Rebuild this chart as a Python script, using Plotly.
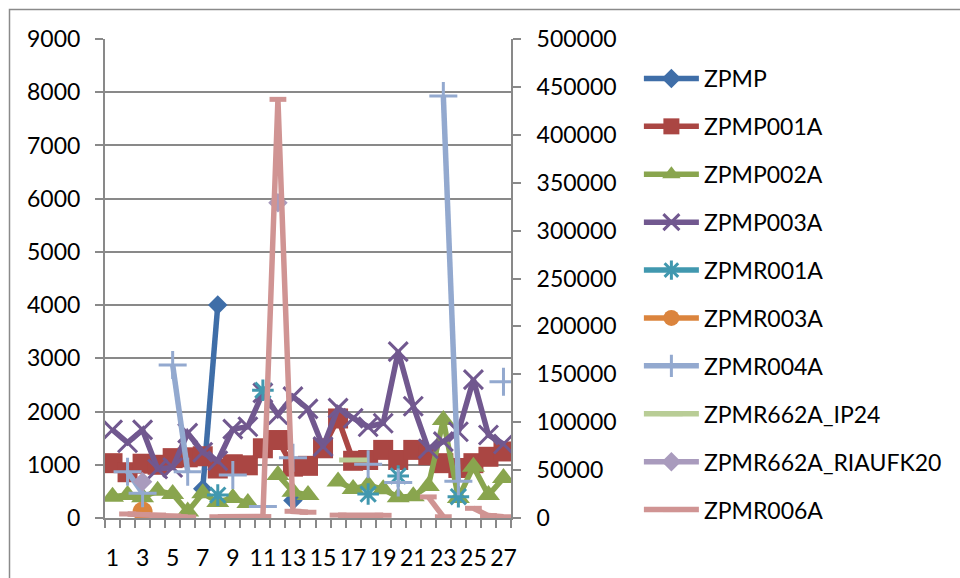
import plotly.graph_objects as go

categories = list(range(1, 28))
x_tick_labels = [str(i) for i in range(1, 28, 2)]

N = None
zpmp = [N, N, N, N, N, N, 550, 4000, N, N, N, N, 330, N, N, N, N, N, N, N, N, N, N, N, N, N, N]
zpmp001a = [1030, 860, 1020, 1000, 1125, 1140, 1160, 930, 1010, 990, 1310, 1465, 965, 980,
            1310, 1870, 1075, 1090, 1280, 1090, 1280, 1180, 1030, 940, 1030, 1150, 1250]
zpmp002a = [400, 430, 390, 510, 450, 120, 465, 300, 375, 280, N, 810, 495, 430,
            N, 685, 545, 620, 540, 390, 410, 600, 1840, 375, 965, 430, 750]
zpmp003a = [1655, 1415, 1655, 920, 950, 1595, 1235, 1075, 1670, 1715, 2350, 1940, 2280, 2050,
            1340, 2065, 1875, 1715, 1780, 3125, 2100, 1300, 1435, 1620, 2600, 1560, 1390]
zpmr001a = [N, N, N, N, N, N, N, 430, N, N, 2400, N, N, N, N, N, N, 450, N, 790, N, N, N, 400, N, N, N]
zpmr003a = [N, N, 120, N, N, N, N, N, N, N, N, N, N, N, N, N, N, N, N, N, N, N, N, N, N, N, N]
zpmr004a = [N, 870, 465, N, 2875, 870, N, N, 810, N, 215, N, 1130, N, N, N, N, 1010, N, 665,
            N, N, 7930, 690, N, N, 2560]
zpmr662a_ip24 = [N, N, N, N, N, N, N, N, N, N, N, N, N, N, N, N, 1090, N, N, N, N, N, N, N, N, N, N]
zpmr662a_riaufk20 = [N, N, 680, N, N, N, N, N, N, N, N, 5925, N, N, N, N, N, N, N, N, N, N, N, N, N, N, N]
zpmr006a = [N, 4200, 3700, 3100, 2100, 1000, N, 1300, 1300, 1300, 1500, 437000, 7000, 6000,
            N, 3000, 2500, 2500, 2800, N, N, 22000, 1300, N, 10100, 2500, 1300]

left_ticks = list(range(0, 9001, 1000))
right_ticks = list(range(0, 500001, 50000))

FONT = "Lato"
GRID = "#898989"

series = [
    ("ZPMP", zpmp, "#3F6EA8", dict(symbol="diamond", size=15), "y"),
    ("ZPMP001A", zpmp001a, "#AA4643", dict(symbol="square", size=20), "y"),
    ("ZPMP002A", zpmp002a, "#89A54E", dict(symbol="triangle-up", size=20), "y"),
    ("ZPMP003A", zpmp003a, "#71588F", dict(symbol="x-thin", size=19), "y"),
    ("ZPMR001A", zpmr001a, "#4198AF", dict(symbol="asterisk", size=18), "y"),
    ("ZPMR003A", zpmr003a, "#DB843D", dict(symbol="circle", size=20), "y"),
    ("ZPMR004A", zpmr004a, "#93A9CF", dict(symbol="cross-thin", size=20), "y"),
    ("ZPMR662A_IP24", zpmr662a_ip24, "#B9CD96", dict(symbol="line-ew", size=20), "y"),
    ("ZPMR662A_RIAUFK20", zpmr662a_riaufk20, "#A99BBD", dict(symbol="diamond", size=15), "y"),
    ("ZPMR006A", zpmr006a, "#D09493", dict(symbol="line-ew", size=12), "y2"),
]

fig = go.Figure()
for i, (name, vals, color, mk, yax) in enumerate(series):
    thin = mk["symbol"] in ("x-thin", "asterisk", "cross-thin", "line-ew")
    marker = dict(symbol=mk["symbol"], size=mk["size"], color=color,
                  line=dict(color=color, width=(5 if mk["symbol"] == "line-ew" else (3 if thin else 0))))
    fig.add_trace(go.Scatter(
        x=categories, y=vals, name=name, mode="lines+markers",
        line=dict(color=color, width=5.5), marker=marker, yaxis=yax,
        legendgroup=f"g{i}", connectgaps=False,
    ))

fig.update_layout(
    width=960, height=578,
    margin=dict(l=105, r=449, t=39, b=60, autoexpand=False),
    paper_bgcolor="white", plot_bgcolor="white",
    font=dict(family=FONT, size=23, color="black"),
    showlegend=True,
    legend=dict(
        x=1.315, y=(518 - 57) / 479, xanchor="left", yanchor="top",
        font=dict(family=FONT, size=23, color="black"),
        itemwidth=55, tracegroupgap=15, bgcolor="rgba(0,0,0,0)",
    ),
    xaxis=dict(
        range=[0.5, 27.5], tickmode="array", tickvals=list(range(1, 28, 2)), ticktext=x_tick_labels,
        ticks="", showgrid=False, zeroline=False, showline=True, linecolor=GRID, linewidth=2,
        ticklabelstandoff=18,
        minor=dict(ticks="outside", tick0=0.5, dtick=1, ticklen=8, tickcolor=GRID, tickwidth=1.5, showgrid=False),
    ),
    yaxis=dict(
        range=[0, 9000], tickmode="array", tickvals=left_ticks, ticks="outside", ticklen=8,
        tickcolor=GRID, tickwidth=1.5, showgrid=True, gridcolor=GRID, gridwidth=2,
        zeroline=False, showline=True, linecolor=GRID, linewidth=2, ticklabelstandoff=10,
    ),
    yaxis2=dict(
        range=[0, 500000], tickmode="array", tickvals=right_ticks, ticktext=[str(v) for v in right_ticks],
        overlaying="y", side="right",
        ticks="outside", ticklen=8, tickcolor=GRID, tickwidth=1.5, showgrid=False, zeroline=False,
        showline=True, linecolor=GRID, linewidth=2, ticklabelstandoff=11,
    ),
)

# outer chart-area border
fig.add_shape(type="rect", xref="paper", yref="paper",
              x0=(9.5 - 105) / 406, x1=(975 - 105) / 406,
              y0=(518 - 600) / 479, y1=(518 - 9.5) / 479,
              line=dict(color="#8a8a8a", width=1.5), fillcolor="rgba(0,0,0,0)", layer="below")

fig.write_html("out.html")
